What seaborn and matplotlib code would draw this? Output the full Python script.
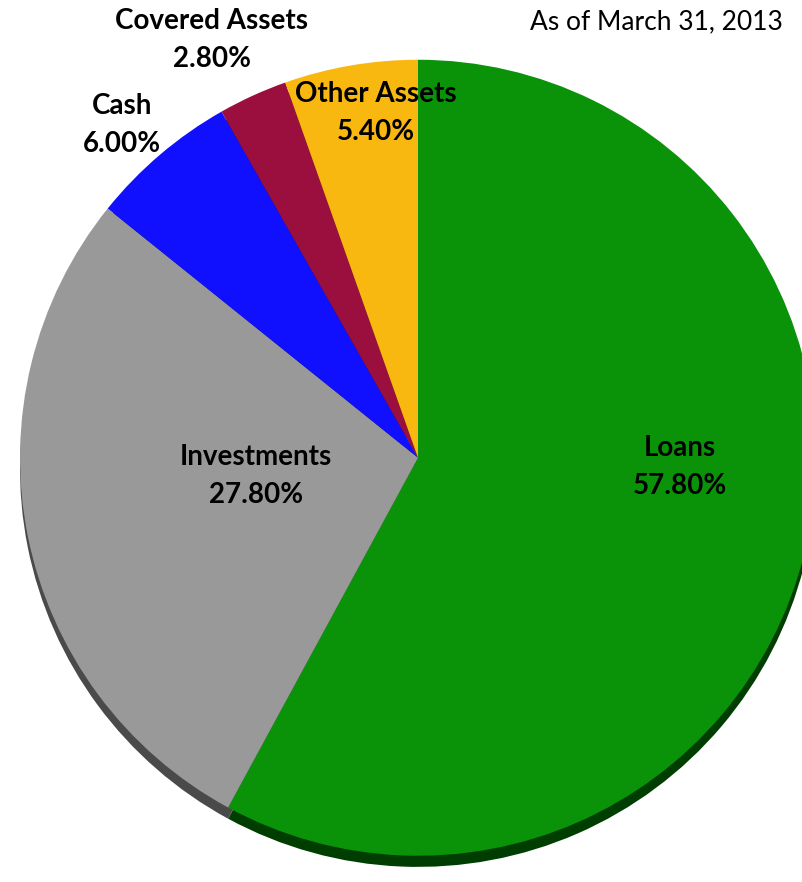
import matplotlib
matplotlib.use("Agg")
import matplotlib.pyplot as plt
import seaborn as sns

sns.set_theme(style="white")
plt.rcParams['font.family'] = ['Lato', 'DejaVu Sans']

categories = ["Loans", "Investments", "Cash", "Covered Assets", "Other Assets"]
values = [57.8, 27.8, 6.0, 2.8, 5.4]
colors = ["#0A9209", "#999999", "#1010FF", "#9B0F3F", "#F8B810"]
shadow_colors = ["#003D00", "#4A4A4A", "#06066A", "#400618", "#6A4E06"]
date_label = "As of March 31, 2013"

W, H = 803, 882
fig = plt.figure(figsize=(W / 100, H / 100), dpi=100)
ax = fig.add_axes([0, 0, 1, 1])

cx, cy = 418, 458  # pixel centre (from top)
rx, ry = 398, 404

# shadow layer
ax.pie(values, colors=shadow_colors, startangle=90, counterclock=False,
       radius=1.0, center=(0.0, -0.028), frame=True,
       wedgeprops=dict(linewidth=0))
ax.pie(values, colors=colors, startangle=90, counterclock=False,
       radius=1.0, center=(0, 0), frame=True,
       wedgeprops=dict(linewidth=0))
ax.set_xlim(-cx / rx, (W - cx) / rx)
ax.set_ylim(-(H - cy) / ry, cy / ry)
ax.set_axis_off()

label_pos = {
    "Loans": (680, 467),
    "Investments": (256, 476),
    "Cash": (122, 125),
    "Covered Assets": (212, 40),
    "Other Assets": (376, 113),
}
for cat, val in zip(categories, values):
    px, py = label_pos[cat]
    fig.text(px / W, 1 - py / H, f"{cat}\n{val:.2f}%", ha="center", va="center",
             fontsize=20, fontweight="bold", color="black", linespacing=1.6)

fig.text(656 / W, 1 - 22 / H, date_label, ha="center", va="center",
         fontsize=19, color="black")

fig.savefig("out.png", dpi=100)
